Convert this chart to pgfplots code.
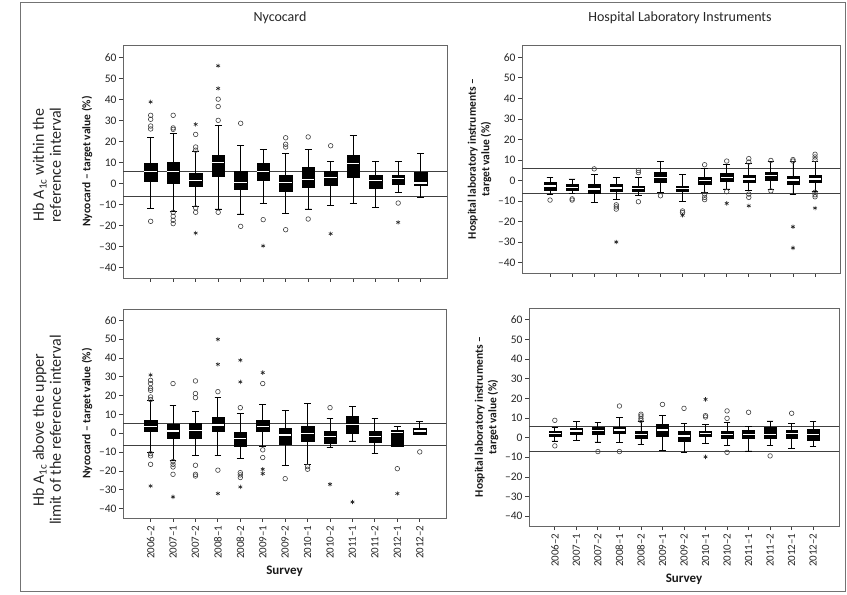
\documentclass[border=0pt]{standalone}
\usepackage{pgfplots}
\pgfplotsset{compat=1.18}
\usepackage{pgfplotstable}
\usepgfplotslibrary{statistics}
\usepackage{fontspec}
\setmainfont{Carlito}

% ---------- data: lw lq med uq uw per survey ----------
\pgfplotstableread{
lw lq med uq uw
-12 1 5.9 9.9 21.8
-13.2 0 5.9 10.4 23.8
-10.8 -1.3 1.4 5.1 15.5
-12.1 3.5 10.2 13.6 27.8
-14.5 -2.9 0.6 5.9 18.3
-9.7 1.6 5.9 9.9 16.3
-14.2 -3.7 0.6 4 14.4
-12.1 -1.6 1.9 8 16.3
-10.4 -1 2.7 6.1 10.4
-9.4 3 9.4 13.6 23
-11.2 -2.4 1.6 4.1 10.7
-4.1 -0.5 2.4 4.1 10.4
-6.5 -1 0.3 5.4 14.2
}\TL
\pgfplotstableread{
x y
0 32.5
0 30.6
0 27.4
0 26
0 -18
1 32.5
1 26.5
1 25.8
1 -13.7
1 -15.6
1 -17.5
1 -19.1
2 23.4
2 17.4
2 15.9
2 -11.6
2 -13.7
3 30.1
3 36.7
3 40.2
3 -13.7
4 28.7
4 -20.4
5 -17.2
6 21.8
6 18.7
6 17.4
6 -22
7 22.2
7 -16.9
8 18
11 -9.3
}\TLc
\pgfplotstableread{
x y
0 38.9
2 28.2
2 -23.6
3 45.3
3 56.1
5 -29.7
8 -23.9
11 -18.5
}\TLs

\pgfplotstableread{
lw lq med uq uw
-6.6 -4.6 -2.6 -1 1.6
-6.2 -4.6 -3.3 -2 0.8
-10.7 -6.2 -4.1 -2 2.8
-9 -5.2 -3.6 -2 1.6
-7.2 -5.2 -3.8 -2.5 1.6
-5.7 -0.8 1.6 4.1 9.3
-10.2 -5.2 -3.8 -2.5 3
-5.7 -1.6 0 1.6 5.7
-4.1 -0.3 1.6 3.6 7.7
-4.9 -1 0.8 2.5 8.5
-4.3 0.3 2.3 4.1 9.2
-6.9 -1.6 0.3 2 9.5
-5.2 -1 0.8 2.5 9.5
}\TR
\pgfplotstableread{
x y
0 -9.5
1 -8.9
1 -9.5
2 5.7
3 -11.8
3 -12.8
3 -13.9
4 4.9
4 3.9
4 -10.3
5 -7.4
6 -14.8
6 -15.6
7 7.7
7 -6.6
7 -8.2
7 -9.3
8 9.5
8 -5.4
9 10.7
9 9
9 -6.6
9 -8.2
10 9.8
10 -5
11 10.2
11 9.5
12 12.8
12 11.5
12 10.2
12 -5.7
12 -6.9
12 -7.9
}\TRc
\pgfplotstableread{
x y
3 -29.9
6 -16.9
8 -11.1
9 -12.3
11 -22.5
11 -32.8
12 -13.4
}\TRs

\pgfplotstableread{
lw lq med uq uw
-10.3 0.9 3.4 6.9 17.2
-14.3 -2.8 1.2 4.8 15
-11.7 -2.8 1.6 5.1 11.5
-11.7 0.9 4.4 8.7 18.9
-13.5 -6.7 -2.8 0.7 10.6
-7.1 1.2 3.4 7.1 15.4
-17.3 -5.8 -0.9 2.7 11.9
-16.5 -4.1 -0.2 3.9 15.8
-7.6 -5.3 -1.9 1.2 8
-4.1 0 4.8 9.2 14.3
-10.8 -4.6 -1.9 1.2 7.8
-7 -6.7 0.4 1.6 3.4
-0.8 -0.5 1.2 2.5 6.5
}\BL
\pgfplotstableread{
x y
0 28.1
0 26.4
0 23.9
0 22.8
0 19.3
0 17.9
0 -10.8
0 -12
0 -16.5
1 26.4
1 -15
1 -16.5
1 -17.9
1 -21.8
2 27.8
2 21.1
2 18.9
2 -17
2 -21.8
2 -22.7
3 22.1
3 -19.6
4 13.6
4 -20.9
4 -22.1
4 -23.5
5 26.4
5 -8.8
5 -12.9
6 -24.1
7 -17.7
7 -19.1
8 13.6
11 -18.8
12 -9.9
}\BLc
\pgfplotstableread{
x y
0 31
0 -28
1 -33.8
3 49.9
3 36.6
3 -32
4 38.8
4 27.3
4 -28.5
5 32.2
5 -19.1
5 -21.4
8 -27.1
9 -36.5
11 -32
}\BLs

\pgfplotstableread{
lw lq med uq uw
-1.7 0.8 2 3.1 5.4
-1.4 1.7 3.4 4.6 8.1
-2.2 1.7 3.7 5.4 7.6
-2.5 2 3.9 5.4 10.2
-3.4 -0.5 1.4 3.4 8.1
-6.4 0.8 3.9 6.8 11.4
-7.6 -1.7 0.8 3.1 7.3
-3.1 0.5 2 3.1 6.8
-4.2 -0.3 1.7 3.4 7.8
-6.8 -0.5 1.7 3.9 5.9
-4.2 -0.5 1.7 5.1 8.5
-5.6 -0.3 2 3.9 7.3
-4.7 -1.2 1.7 4.1 8.1
}\BR
\pgfplotstableread{
x y
0 8.8
0 -4.2
2 -7.1
3 16.1
3 -7.1
4 11.9
4 11
4 9.8
4 8.8
5 16.9
6 14.9
7 11.2
7 10.5
8 13.6
8 9.8
8 -7.5
9 12.9
10 -9.3
11 12.4
}\BRc
\pgfplotstableread{
x y
7 19.5
7 -9.8
}\BRs

\pgfplotsset{
  panel/.style={
    scale only axis,
    ymin=-45, ymax=66,
    ytick={-40,-30,...,60},
    yticklabels={–40,–30,–20,–10,0,10,20,30,40,50,60},
    xtick={0,...,12},
    tick align=outside, tick pos=left,
    major tick length=4pt,
    every tick/.style={black!75, line width=0.8pt},
    axis line style={black!60, line width=0.9pt},
    ticklabel style={font=\fontsize{11.5}{13}\selectfont, text=black!85},
    yticklabel style={xshift=1pt},
    ylabel style={font=\bfseries\fontsize{11.5}{13.5}\selectfont, align=center, text=black!90},
    xlabel style={font=\bfseries\fontsize{13}{15}\selectfont, text=black!90},
    boxplot/draw direction=y,
    boxplot/box extend=0.55,
    boxplot/whisker extend=0.3,
    boxplot/every box/.style={draw=black, fill=black},
    boxplot/every whisker/.style={draw=black, line width=0.8pt},
    boxplot/every median/.style={draw=white, line width=1.2pt},
  },
  nox/.style={xticklabels={}},
  surveyx/.style={
    xticklabels={2006–2,2007–1,2007–2,2008–1,2008–2,2009–1,2009–2,2010–1,2010–2,2011–1,2011–2,2012–1,2012–2},
    xticklabel style={rotate=90, anchor=east, font=\fontsize{11}{12}\selectfont},
    xlabel={Survey},
  },
  circ/.style={only marks, mark=o, mark size=2.3pt, mark options={draw=black!75, line width=0.6pt}},
  stars/.style={only marks, mark=asterisk, mark size=2.2pt, mark options={draw=black!85, line width=0.6pt}},
  refl/.style={black!75, line width=0.8pt},
}

\newcommand\boxes[1]{%
  \pgfplotsinvokeforeach{0,...,12}{%
    \pgfplotstablegetelem{##1}{lw}\of#1\let\vlw\pgfplotsretval
    \pgfplotstablegetelem{##1}{lq}\of#1\let\vlq\pgfplotsretval
    \pgfplotstablegetelem{##1}{med}\of#1\let\vmed\pgfplotsretval
    \pgfplotstablegetelem{##1}{uq}\of#1\let\vuq\pgfplotsretval
    \pgfplotstablegetelem{##1}{uw}\of#1\let\vuw\pgfplotsretval
    \edef\tmpbox{\noexpand\addplot[draw=black, fill=black,
      boxplot prepared={draw position=##1,
        lower whisker=\vlw, lower quartile=\vlq, median=\vmed,
        upper quartile=\vuq, upper whisker=\vuw}] coordinates {};}%
    \tmpbox
  }}

\begin{document}
\begin{tikzpicture}
\useasboundingbox (0pt,0pt) rectangle (847pt,595pt);
\draw[black!55, line width=1pt] (20pt,3pt) rectangle (845pt,592pt);

% top-left
\begin{axis}[panel, nox, at={(123pt,317pt)}, anchor=south west,
  width=324pt, height=233pt, xmin=-1.23, xmax=13.17,
  ylabel={Nycocard – target value (\%)}]
  \addplot[refl] coordinates {(-2,6) (14,6)};
  \addplot[refl] coordinates {(-2,-6.2) (14,-6.2)};
  \boxes{\TL}
  \addplot[circ] table[x=x,y=y] {\TLc};
  \addplot[stars] table[x=x,y=y] {\TLs};
\end{axis}

% top-right
\begin{axis}[panel, nox, at={(522pt,322pt)}, anchor=south west,
  width=318pt, height=228pt, xmin=-1.27, xmax=13.13,
  ylabel={Hospital laboratory instruments –\\target value (\%)}]
  \addplot[refl] coordinates {(-2,6.1) (14,6.1)};
  \addplot[refl] coordinates {(-2,-6.1) (14,-6.1)};
  \boxes{\TR}
  \addplot[circ] table[x=x,y=y] {\TRc};
  \addplot[stars] table[x=x,y=y] {\TRs};
\end{axis}

% bottom-left
\begin{axis}[panel, surveyx, at={(123pt,77pt)}, anchor=south west,
  width=323pt, height=209pt, xmin=-1.23, xmax=13.17,
  ylabel={Nycocard – target value (\%)}]
  \addplot[refl] coordinates {(-2,5.5) (14,5.5)};
  \addplot[refl] coordinates {(-2,-6.2) (14,-6.2)};
  \boxes{\BL}
  \addplot[circ] table[x=x,y=y] {\BLc};
  \addplot[stars] table[x=x,y=y] {\BLs};
\end{axis}

% bottom-right
\begin{axis}[panel, surveyx, at={(529pt,69pt)}, anchor=south west,
  width=310pt, height=218pt, xmin=-1.2, xmax=13.2,
  ylabel={Hospital laboratory instruments –\\target value (\%)}]
  \addplot[refl] coordinates {(-2,5.5) (14,5.5)};
  \addplot[refl] coordinates {(-2,-6.9) (14,-6.9)};
  \boxes{\BR}
  \addplot[circ] table[x=x,y=y] {\BRc};
  \addplot[stars] table[x=x,y=y] {\BRs};
\end{axis}

% column titles
\node[font=\fontsize{14}{16}\selectfont, text=black!85] at (280pt,577pt) {Nycocard};
\node[font=\fontsize{14}{16}\selectfont, text=black!85] at (680pt,577pt) {Hospital Laboratory Instruments};

% row labels
\node[rotate=90, align=center, font=\fontsize{16}{17}\selectfont, text=black!85] at (47pt,430pt)
  {Hb A\textsubscript{1c} within the\\reference interval};
\node[rotate=90, align=center, font=\fontsize{16}{17}\selectfont, text=black!85] at (47pt,165pt)
  {Hb A\textsubscript{1c} above the upper\\limit of the reference interval};
\end{tikzpicture}
\end{document}
